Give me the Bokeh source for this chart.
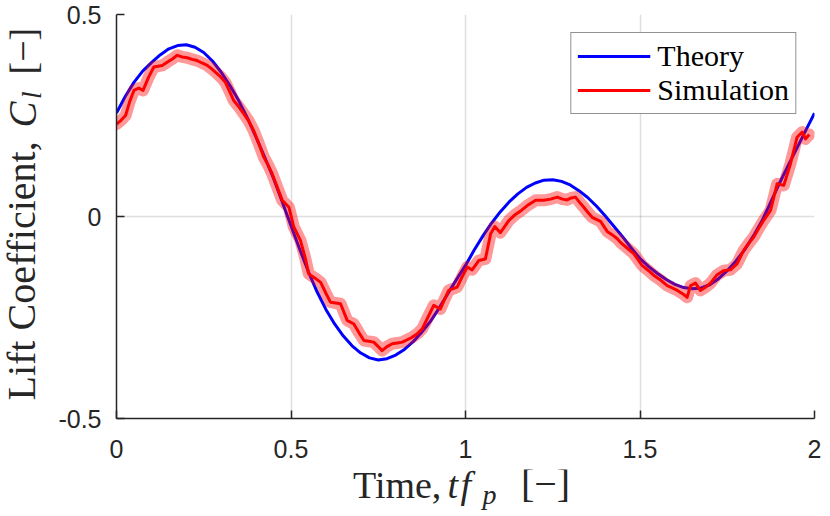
from math import pi
from bokeh.plotting import figure
from bokeh.layouts import row, column
from bokeh.models import Range1d, FixedTicker, Legend, LegendItem
from bokeh.core.properties import value
from bokeh.embed import file_html
from bokeh.resources import INLINE

# ---------------- data ----------------
t_theory = [0.000, 0.025, 0.050, 0.075, 0.100, 0.125, 0.150, 0.175, 0.200, 0.225,
            0.250, 0.275, 0.300, 0.325, 0.350, 0.375, 0.400, 0.425, 0.450, 0.475,
            0.500, 0.525, 0.550, 0.575, 0.600, 0.625, 0.650, 0.675, 0.700, 0.725,
            0.750, 0.775, 0.800, 0.825, 0.850, 0.875, 0.900, 0.925, 0.950, 0.975,
            1.000, 1.025, 1.050, 1.075, 1.100, 1.125, 1.150, 1.175, 1.200, 1.225,
            1.250, 1.275, 1.300, 1.325, 1.350, 1.375, 1.400, 1.425, 1.450, 1.475,
            1.500, 1.525, 1.550, 1.575, 1.600, 1.625, 1.650, 1.675, 1.700, 1.725,
            1.750, 1.775, 1.800, 1.825, 1.850, 1.875, 1.900, 1.925, 1.950, 1.975, 2.000]
cl_theory = [0.256, 0.297, 0.332, 0.360, 0.381, 0.400, 0.415, 0.423, 0.425, 0.419,
             0.406, 0.385, 0.357, 0.324, 0.287, 0.244, 0.196, 0.146, 0.094, 0.036,
             -0.023, -0.081, -0.137, -0.187, -0.230, -0.266, -0.296, -0.320, -0.338, -0.350,
             -0.355, -0.352, -0.343, -0.329, -0.310, -0.286, -0.259, -0.226, -0.190, -0.155,
             -0.121, -0.083, -0.048, -0.016, 0.012, 0.036, 0.056, 0.072, 0.083, 0.090,
             0.091, 0.087, 0.078, 0.064, 0.047, 0.026, 0.002, -0.024, -0.050, -0.078,
             -0.104, -0.124, -0.141, -0.156, -0.168, -0.176, -0.179, -0.177, -0.169, -0.154,
             -0.134, -0.110, -0.082, -0.048, -0.010, 0.036, 0.083, 0.127, 0.170, 0.213, 0.256]

t_sim = [0.000, 0.013, 0.026, 0.038, 0.050, 0.064, 0.076, 0.092, 0.107, 0.131,
         0.145, 0.160, 0.174, 0.188, 0.203, 0.217, 0.231, 0.245, 0.260, 0.272,
         0.284, 0.298, 0.312, 0.324, 0.336, 0.350, 0.365, 0.379, 0.393, 0.408,
         0.422, 0.434, 0.446, 0.460, 0.475, 0.494, 0.508, 0.518, 0.527, 0.540,
         0.551, 0.568, 0.585, 0.600, 0.613, 0.628, 0.642, 0.661, 0.680, 0.695,
         0.709, 0.723, 0.737, 0.750, 0.761, 0.775, 0.790, 0.805, 0.819, 0.833,
         0.847, 0.862, 0.876, 0.892, 0.909, 0.928, 0.940, 0.952, 0.976, 0.990,
         1.005, 1.019, 1.038, 1.057, 1.072, 1.084, 1.100, 1.124, 1.143, 1.160,
         1.177, 1.201, 1.224, 1.244, 1.263, 1.278, 1.291, 1.303, 1.315, 1.327,
         1.339, 1.351, 1.363, 1.387, 1.406, 1.420, 1.435, 1.444, 1.463, 1.482,
         1.506, 1.523, 1.540, 1.560, 1.578, 1.593, 1.607, 1.622, 1.635, 1.645,
         1.659, 1.673, 1.688, 1.702, 1.720, 1.740, 1.759, 1.778, 1.797, 1.812,
         1.826, 1.840, 1.854, 1.874, 1.893, 1.912, 1.931, 1.950, 1.965, 1.974, 1.985]
cl_sim = [0.229, 0.238, 0.250, 0.285, 0.312, 0.318, 0.312, 0.345, 0.370, 0.374,
          0.382, 0.390, 0.399, 0.395, 0.393, 0.389, 0.386, 0.380, 0.374, 0.366,
          0.357, 0.346, 0.332, 0.310, 0.287, 0.272, 0.254, 0.236, 0.213, 0.180,
          0.147, 0.128, 0.106, 0.074, 0.040, 0.023, -0.026, -0.043, -0.059, -0.100,
          -0.142, -0.152, -0.163, -0.190, -0.212, -0.214, -0.216, -0.257, -0.266, -0.288,
          -0.307, -0.309, -0.311, -0.322, -0.332, -0.322, -0.315, -0.313, -0.311, -0.305,
          -0.299, -0.290, -0.278, -0.250, -0.220, -0.229, -0.205, -0.183, -0.175, -0.150,
          -0.125, -0.132, -0.109, -0.105, -0.043, -0.025, -0.040, -0.010, 0.005, 0.015,
          0.027, 0.040, 0.040, 0.043, 0.048, 0.043, 0.041, 0.046, 0.048, 0.035,
          0.023, 0.010, -0.002, -0.012, -0.037, -0.045, -0.055, -0.064, -0.078, -0.092,
          -0.121, -0.133, -0.146, -0.158, -0.171, -0.177, -0.183, -0.191, -0.200, -0.171,
          -0.165, -0.183, -0.175, -0.165, -0.145, -0.134, -0.132, -0.117, -0.084, -0.066,
          -0.051, -0.030, -0.010, 0.015, 0.081, 0.077, 0.130, 0.196, 0.209, 0.192, 0.203]

x_ticks = [0, 0.5, 1, 1.5, 2]
x_tick_labels = ["0", "0.5", "1", "1.5", "2"]
y_ticks = [-0.5, 0, 0.5]
y_tick_labels = ["-0.5", "0", "0.5"]

series_names = ["Theory", "Simulation"]

TXT = "#262626"
SERIF = "Liberation Serif"

# ---------------- layout sizes (pixels) ----------------
YLAB_W = 48                      # strip left of the plot holding the y title
B_LEFT, B_RIGHT, B_TOP, B_BOTTOM = 68, 8, 14, 51
FRAME_W, FRAME_H = 698, 404
MAIN_W = B_LEFT + FRAME_W + B_RIGHT
MAIN_H = B_TOP + FRAME_H + B_BOTTOM
XLAB_H = 44                      # strip below the plot holding the x title
TOTAL_H = MAIN_H + XLAB_H
FRAME_X0 = YLAB_W + B_LEFT       # page x of the plot frame's left edge

# ---------------- main figure ----------------
p = figure(width=MAIN_W, height=MAIN_H, output_backend="svg", toolbar_location=None,
           x_range=Range1d(0, 2), y_range=Range1d(-0.5, 0.5),
           min_border_left=B_LEFT, min_border_right=B_RIGHT,
           min_border_top=B_TOP, min_border_bottom=B_BOTTOM)
p.outline_line_color = None
p.background_fill_color = "white"
p.border_fill_color = "white"

p.xaxis.ticker = FixedTicker(ticks=x_ticks)
p.yaxis.ticker = FixedTicker(ticks=y_ticks)
p.xaxis.major_label_overrides = dict(zip(x_ticks, x_tick_labels))
p.yaxis.major_label_overrides = dict(zip(y_ticks, y_tick_labels))

for ax in (p.xaxis[0], p.yaxis[0]):
    ax.axis_line_color = TXT
    ax.axis_line_width = 1.5
    ax.major_tick_line_color = TXT
    ax.major_tick_line_width = 1.5
    ax.major_tick_in = 8
    ax.major_tick_out = 0
    ax.minor_tick_line_color = None
    ax.major_label_text_font = "Liberation Sans"
    ax.major_label_text_font_size = "25px"
    ax.major_label_text_color = TXT
p.xaxis.major_label_standoff = 21
p.yaxis.major_label_standoff = 15

for g in (p.xgrid[0], p.ygrid[0]):
    g.grid_line_color = TXT
    g.grid_line_alpha = 0.15
    g.grid_line_width = 1.5

r_theory = p.line(t_theory, cl_theory, line_color="#0000ff", line_width=3, line_join="round")
p.line(t_sim, cl_sim, line_color="#ff0000", line_alpha=0.4, line_width=12,
       line_join="round", line_cap="round")
r_sim = p.line(t_sim, cl_sim, line_color="#ff0000", line_width=3, line_join="round")

legend = Legend(items=[LegendItem(label=series_names[0], renderers=[r_theory]),
                       LegendItem(label=series_names[1], renderers=[r_sim])],
                location="top_right", margin=18, padding=6, spacing=0,
                glyph_width=73, glyph_height=34, label_height=34, label_standoff=7,
                label_text_font=SERIF, label_text_font_size="30px",
                label_text_color="#000000",
                border_line_color=TXT, border_line_width=1.5,
                background_fill_color="white", background_fill_alpha=1.0)
p.add_layout(legend)

# ---------------- title strips (ranges in page pixels) ----------------
def strip(width, height, x_lo, x_hi, y0):
    f = figure(width=width, height=height, output_backend="svg", toolbar_location=None,
               x_range=Range1d(x_lo, x_hi), y_range=Range1d(y0 + height, y0),
               x_axis_location=None, y_axis_location=None,
               min_border=0, min_border_left=0, min_border_right=0,
               min_border_top=0, min_border_bottom=0)
    f.outline_line_color = None
    f.grid.visible = False
    f.background_fill_color = "white"
    f.border_fill_color = "white"
    return f

BASE_SHIFT = 0.34   # observed baseline drop (in em) of rendered text relative to its anchor

def txt(f, xs, ys, texts, size_px, style="normal", align="left", angle=0.0):
    d = BASE_SHIFT * size_px
    if angle:
        xs = [x - d for x in xs]
    else:
        ys = [y - d for y in ys]
    f.text(x=xs, y=ys, text=texts, text_font=value(SERIF),
           text_font_size=value(f"{size_px}px"),
           text_font_style=style, text_color=TXT, text_align=align,
           text_baseline="alphabetic", angle=angle)

# x title: "Time, t f_p [−]"  (positions = page pixels of each piece's baseline)
# the strip's frame is aligned with the main plot's frame inside the column
xl = strip(MAIN_W, XLAB_H, FRAME_X0, FRAME_X0 + FRAME_W, MAIN_H)
txt(xl, [352.5], [497.0], ["Time,"], 38)
txt(xl, [447, 460], [497.0, 497.0], ["t", "f"], 38, "italic")
txt(xl, [482], [504.0], ["p"], 28, "italic")
txt(xl, [545], [497.0], ["[\u2212]"], 40, align="center")

# y title (rotated): "Lift Coefficient, C_l [−]"
yl = strip(YLAB_W, TOTAL_H, 0, YLAB_W, 0)
txt(yl, [35], [400], ["Lift Coefficient,"], 40, angle=pi / 2)
txt(yl, [35], [127], ["C"], 39, "italic", angle=pi / 2)
txt(yl, [41], [98.5], ["l"], 27, "italic", angle=pi / 2)
txt(yl, [35], [74], ["[\u2212]"], 38, angle=pi / 2)

layout = row(yl, column(p, xl, spacing=0), spacing=0)

open("out.html", "w").write(file_html(layout, INLINE))
